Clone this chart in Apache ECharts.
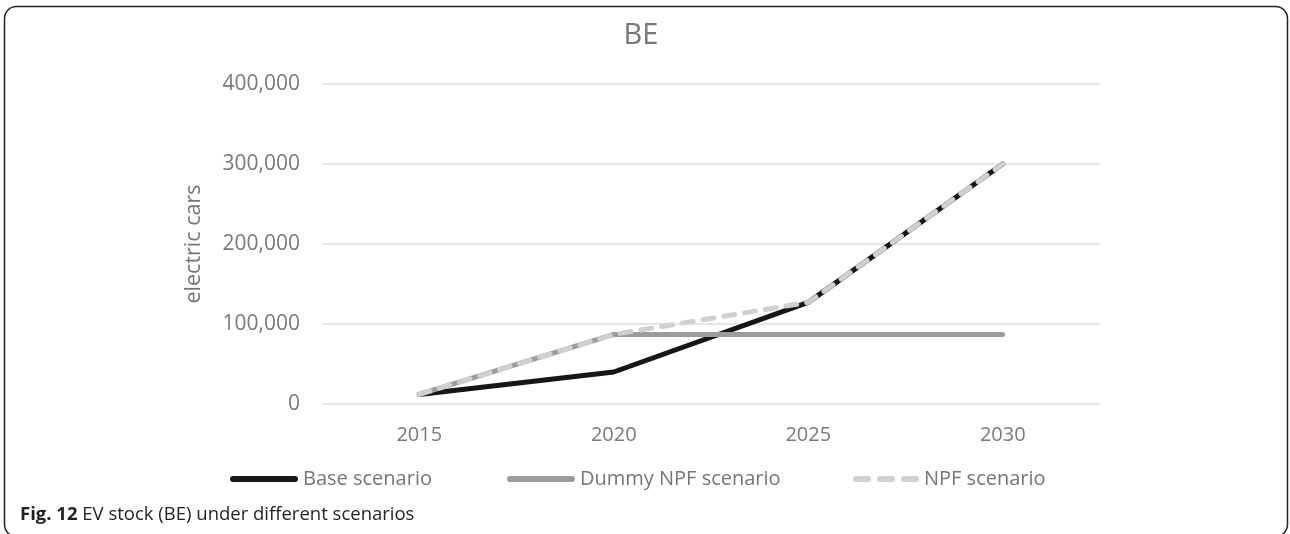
<!DOCTYPE html>
<html>
<head>
<meta charset="utf-8">
<script src="https://cdn.jsdelivr.net/npm/echarts@6/dist/echarts.min.js"></script>
<style>
html,body{margin:0;padding:0;background:#fff;}
#c{width:1290px;height:534px;}
</style>
</head>
<body>
<div id="c"></div>
<script>
const categories = ['2015', '2020', '2025', '2030'];
const baseScenario = [12000, 40000, 127000, 300000];
const dummyNpfScenario = [12000, 87000, 87000, 87000];
const npfScenario = [12000, 87000, 127000, 300000];
const yTicks = [0, 100000, 200000, 300000, 400000];
const seriesNames = ['Base scenario', 'Dummy NPF scenario', 'NPF scenario'];

const chart = echarts.init(document.getElementById('c'));
const FONT = '"Open Sans", "Noto Sans", sans-serif';
const gray = '#767676';

const legendCommon = {
  top: 469, itemWidth: 68, itemHeight: 6, itemGap: 5, padding: 0,
  textStyle: {fontSize: 20, color: gray, fontFamily: FONT}
};

chart.setOption({
  animation: false,
  textStyle: {fontFamily: FONT},
  title: {
    text: 'BE', left: 636, top: 16, textAlign: 'center',
    textStyle: {fontSize: 29, fontWeight: 'normal', color: '#777', fontFamily: FONT}
  },
  grid: {left: 322, right: 190, top: 84, bottom: 130},
  legend: [
    Object.assign({}, legendCommon, {left: 230, data: [{name: seriesNames[0], icon: 'path://M3,0H65A3,3 0 0 1 65,6H3A3,3 0 0 1 3,0Z'}]}),
    Object.assign({}, legendCommon, {left: 507, data: [{name: seriesNames[1], icon: 'path://M3,0H65A3,3 0 0 1 65,6H3A3,3 0 0 1 3,0Z'}]}),
    Object.assign({}, legendCommon, {left: 853, itemWidth: 66, data: [{name: seriesNames[2], icon: 'path://M3,0H15A3,3 0 0 1 15,6H3A3,3 0 0 1 3,0Z M27,0H39A3,3 0 0 1 39,6H27A3,3 0 0 1 27,0Z M51,0H63A3,3 0 0 1 63,6H51A3,3 0 0 1 51,0Z'}]})
  ],
  xAxis: {
    type: 'category', data: categories, boundaryGap: true,
    axisLine: {show: false}, axisTick: {show: false},
    axisLabel: {fontSize: 20, color: '#7a7a7a', margin: 21, fontFamily: FONT}
  },
  yAxis: {
    type: 'value', min: yTicks[0], max: yTicks[yTicks.length - 1], interval: yTicks[1] - yTicks[0],
    name: 'electric cars', nameLocation: 'middle', nameGap: 117, nameRotate: 90,
    nameTextStyle: {fontSize: 21.5, color: gray, fontFamily: FONT},
    axisLine: {show: false}, axisTick: {show: false},
    axisLabel: {fontSize: 21, color: '#7a7a7a', margin: 22, fontFamily: FONT,
      formatter: v => v.toLocaleString('en-US')},
    splitLine: {lineStyle: {color: '#dcdcdc', width: 1.5}}
  },
  series: [
    {name: seriesNames[0], type: 'line', data: baseScenario, showSymbol: false, symbol: 'none',
      color: '#161616', lineStyle: {color: '#161616', width: 5, cap: 'round', join: 'round'}, z: 2},
    {name: seriesNames[1], type: 'line', data: dummyNpfScenario, showSymbol: false, symbol: 'none',
      color: '#9c9c9c', lineStyle: {color: '#9c9c9c', width: 5, cap: 'round', join: 'round'}, z: 3},
    {name: seriesNames[2], type: 'line', data: npfScenario, showSymbol: false, symbol: 'none',
      color: '#d0d0d0', lineStyle: {color: '#d0d0d0', width: 5, type: [11, 10], cap: 'round', join: 'round'}, z: 4}
  ],
  graphic: [
    {type: 'rect', shape: {x: 4.5, y: 6.5, width: 1283, height: 530, r: 12},
      style: {fill: 'none', stroke: '#222', lineWidth: 1.5}, silent: true, z: 100},
    {type: 'text', left: 20, top: 505,
      style: {
        text: '{b|Fig. 12} EV stock (BE) under different scenarios',
        fontSize: 18.5, fill: '#231f20', fontFamily: FONT,
        rich: {b: {fontWeight: 'bold', fontSize: 18.5, fill: '#231f20', fontFamily: FONT}}
      }}
  ]
});
</script>
</body>
</html>
